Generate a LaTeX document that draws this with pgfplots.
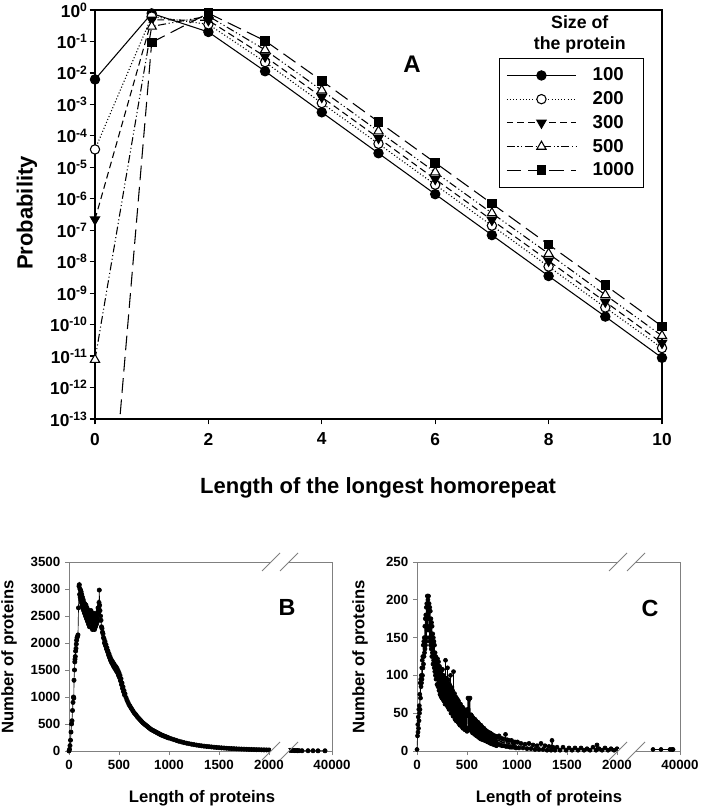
\documentclass[border=0pt]{standalone}
\usepackage{fontspec}
\setmainfont{Liberation Sans}
\usepackage{pgfplots}
\pgfplotsset{compat=1.18}
\begin{document}
\begin{tikzpicture}
\path[use as bounding box] (0pt,0pt) rectangle (525pt,607.5pt);
% ---------------- Panel A ----------------
\begin{axis}[
  at={(71.25pt,293.25pt)}, anchor=south west, scale only axis,
  width=425.25pt, height=306.75pt,
  xmin=0, xmax=10, ymode=log, ymin=1e-13, ymax=1,
  xtick={0,2,4,6,8,10}, xticklabels={0,2,4,6,8,10},
  ytick={1e-13,1e-12,1e-11,1e-10,1e-9,1e-8,1e-7,1e-6,1e-5,1e-4,1e-3,1e-2,1e-1,1},
  yticklabels={10\textsuperscript{-13},10\textsuperscript{-12},10\textsuperscript{-11},10\textsuperscript{-10},10\textsuperscript{-9},10\textsuperscript{-8},10\textsuperscript{-7},10\textsuperscript{-6},10\textsuperscript{-5},10\textsuperscript{-4},10\textsuperscript{-3},10\textsuperscript{-2},10\textsuperscript{-1},10\textsuperscript{0}},
  yminorticks=false, xminorticks=false,
  xtick pos=bottom, ytick pos=left, tick align=outside, major tick length=4pt,
  axis line style={line width=0.9pt}, tick style={line width=0.9pt, black},
  ticklabel style={font=\bfseries\fontsize{13}{14}\selectfont},
  yticklabel style={xshift=2pt}, xticklabel style={yshift=-3pt},
  clip mode=individual,
  legend style={at={(0.7125,0.8826)}, anchor=north west, draw=black, line width=0.9pt,
    font=\bfseries\fontsize{14}{16}\selectfont, inner xsep=5pt, inner ysep=5pt,
    row sep=2.5pt, /tikz/every odd column/.append style={column sep=10pt}},
  legend cell align=left,
  legend image code/.code={\draw[mark repeat=2,mark phase=2] plot coordinates {(0pt,0pt) (26pt,0pt) (52pt,0pt)};},
]
\addplot[black, line width=0.8pt, mark=*, mark size=3.5pt] coordinates {
(0,6.2e-3) (1,0.78) (2,0.20) (3,1.13e-2) (4,5.6e-4) (5,2.8e-5) (6,1.4e-6) (7,7.0e-8) (8,3.5e-9) (9,1.8e-10) (10,8.8e-12)};
\addlegendentry{100}
\addplot[black, line width=0.8pt, dash pattern=on 0.8pt off 1.6pt, mark=*, mark options={solid, fill=white}, mark size=3.5pt] coordinates {
(0,3.7e-5) (1,0.62) (2,0.35) (3,2.2e-2) (4,1.1e-3) (5,5.6e-5) (6,2.8e-6) (7,1.4e-7) (8,7.0e-9) (9,3.5e-10) (10,1.8e-11)};
\addlegendentry{200}
\addplot[black, line width=0.8pt, dash pattern=on 5pt off 3pt, mark=triangle*, mark options={solid, rotate=180}, mark size=4pt] coordinates {
(0,2.2e-7) (1,0.49) (2,0.47) (3,3.3e-2) (4,1.7e-3) (5,8.5e-5) (6,4.2e-6) (7,2.1e-7) (8,1.06e-8) (9,5.3e-10) (10,2.6e-11)};
\addlegendentry{300}
\addplot[black, line width=0.8pt, dash pattern=on 6pt off 2pt on 0.8pt off 2pt on 0.8pt off 2pt, mark=triangle*, mark options={solid, fill=white}, mark size=4pt] coordinates {
(0,7.7e-12) (1,0.30) (2,0.64) (3,5.4e-2) (4,2.8e-3) (5,1.4e-4) (6,7.0e-6) (7,3.5e-7) (8,1.8e-8) (9,8.8e-10) (10,4.4e-11)};
\addlegendentry{500}
\addplot[black, line width=0.8pt, dash pattern=on 11pt off 5pt, mark=square*, mark options={solid}, mark size=3.2pt] coordinates {
(1,0.093) (2,0.79) (3,0.105) (4,5.6e-3) (5,2.8e-4) (6,1.4e-5) (7,7.0e-7) (8,3.5e-8) (9,1.8e-9) (10,8.8e-11)};
\addlegendentry{1000}
\addplot[black, line width=0.8pt, dash pattern=on 11pt off 5pt, forget plot] coordinates {(0,5e-23) (1,0.093)};
\node[font=\bfseries\fontsize{18}{20}\selectfont] at (rel axis cs:0.559,0.868) {A};
\node[align=center, font=\bfseries\fontsize{13.3}{15.75}\selectfont] at (rel axis cs:0.855,0.940) {Size of\\the protein};
\end{axis}
\node[rotate=90, font=\bfseries\fontsize{16.5}{18}\selectfont] at (20.25pt,447.75pt) {Probability};
\node[font=\bfseries\fontsize{16.5}{18}\selectfont] at (283.5pt,241.5pt) {Length of the longest homorepeat};
% ---------------- Panel B ----------------
\begin{axis}[
  at={(51.75pt,44.25pt)}, anchor=south west, scale only axis,
  width=197.25pt, height=141.75pt,
  xmin=0, xmax=2630, ymin=0, ymax=3500,
  xtick={0,500,1000,1500,2000,2630}, xticklabels={0,500,1000,1500,2000,40000},
  ytick={0,500,1000,1500,2000,2500,3000,3500}, yticklabels={0,500,1000,1500,2000,2500,3000,3500},
  xtick pos=bottom, ytick pos=left, tick align=outside, major tick length=3pt,
  axis line style={gray, line width=0.7pt}, tick style={gray, line width=0.7pt},
  ticklabel style={font=\bfseries\fontsize{10}{12}\selectfont},
  clip=false,
]
\addplot[black, line width=0.5pt, mark=*, mark size=1.6pt] coordinates {
(0,0) (5,30) (10,100) (15,200) (20,350) (25,500) (30,560) (35,750) (40,900) (45,1000) (48,980) (50,1310) (55,1500) (58,1650) (60,1700) (63,1750) (66,1850) (70,1900) (73,1980) (76,2050) (80,2100) (85,2120) (90,2150) (95,2650) (100,3050) (103,3080) (106,2900) (109,3000) (112,2850) (115,2980) (118,2800) (121,2950) (124,2750) (127,2900) (130,2700) (132,2780) (134,2850) (136,2720) (138,2650) (140,2740) (142,2800) (144,2680) (146,2600) (148,2700) (150,2750) (152,2620) (155,2550) (158,2650) (160,2720) (163,2600) (165,2500) (168,2620) (170,2700) (173,2550) (175,2450) (178,2560) (180,2650) (183,2500) (185,2400) (188,2500) (190,2600) (193,2450) (195,2350) (198,2480) (200,2600) (203,2420) (205,2300) (208,2420) (210,2550) (213,2450) (215,2400) (218,2500) (220,2600) (223,2420) (225,2300) (228,2450) (230,2550) (233,2380) (235,2250) (238,2400) (240,2500) (243,2380) (245,2300) (248,2450) (250,2550) (253,2380) (255,2250) (258,2360) (260,2450) (263,2350) (265,2300) (268,2420) (270,2500) (273,2400) (275,2350) (278,2450) (280,2550) (283,2450) (285,2400) (288,2550) (290,2650) (293,2600) (295,2550) (298,2650) (300,2750) (303,2980) (306,2700) (310,2600) (315,2500) (320,2420) (325,2300) (330,2270) (335,2200) (340,2170) (345,2100) (350,2080) (355,2000) (360,2030) (365,1950) (370,1970) (375,1890) (380,1910) (385,1840) (390,1850) (395,1780) (400,1800) (405,1730) (410,1750) (415,1680) (420,1700) (425,1640) (430,1670) (435,1610) (440,1640) (445,1570) (450,1610) (455,1540) (460,1580) (465,1510) (470,1560) (475,1480) (480,1530) (485,1450) (490,1490) (495,1400) (500,1450) (505,1360) (510,1400) (515,1300) (520,1340) (525,1230) (530,1260) (535,1160) (540,1190) (545,1100) (550,1120) (555,1040) (560,1060) (570,990) (580,940) (590,900) (600,860) (610,830) (620,800) (630,770) (640,740) (650,710) (660,690) (670,670) (680,640) (690,620) (700,600) (710,580) (720,560) (730,540) (740,520) (750,505) (760,490) (770,475) (780,460) (790,445) (800,430) (810,415) (820,400) (830,390) (840,380) (850,370) (860,360) (870,350) (880,340) (890,330) (900,320) (910,310) (920,300) (930,292) (940,285) (950,277) (960,270) (970,262) (980,255) (990,247) (1000,240) (1025,225) (1050,210) (1075,195) (1100,180) (1125,168) (1150,155) (1175,145) (1200,135) (1225,126) (1250,118) (1275,110) (1300,103) (1325,96) (1350,90) (1375,85) (1400,80) (1425,75) (1450,70) (1475,66) (1500,62) (1525,58) (1550,55) (1575,51) (1600,48) (1625,45) (1650,43) (1675,40) (1700,38) (1725,36) (1750,34) (1775,32) (1800,30) (1825,28) (1850,27) (1875,25) (1900,24) (1925,22) (1950,21) (1975,20) (2000,19)};
\addplot[black, line width=0.5pt, mark=*, mark size=1.6pt] coordinates {
(2210,12) (2225,10) (2240,10) (2255,8) (2270,8) (2285,7) (2300,6) (2330,5) (2390,5) (2440,5) (2490,4) (2560,4)};
\coordinate (bt1) at (axis cs:2020,3500);
\coordinate (bt2) at (axis cs:2200,3500);
\coordinate (bb1) at (axis cs:2020,0);
\coordinate (bb2) at (axis cs:2200,0);
\node[font=\bfseries\fontsize{17.5}{20}\selectfont] at (axis cs:2180,2650) {B};
\end{axis}
\draw[white, line width=3pt] (bt1) -- (bt2);
\draw[white, line width=3pt] (bb1) -- (bb2);
\foreach \p in {bt1,bt2,bb1,bb2} {\draw[gray, line width=0.6pt] (\p) ++(-6.75pt,-6.75pt) -- ++(13.5pt,13.5pt);}
\node[rotate=90, font=\bfseries\fontsize{12.5}{14}\selectfont] at (6.75pt,114.75pt) {Number of proteins};
\node[font=\bfseries\fontsize{12.5}{14}\selectfont] at (151.5pt,9pt) {Length of proteins};
% ---------------- Panel C ----------------
\begin{axis}[
  at={(312.75pt,44.25pt)}, anchor=south west, scale only axis,
  width=197.25pt, height=141.75pt,
  xmin=0, xmax=2630, ymin=0, ymax=250,
  xtick={0,500,1000,1500,2000,2630}, xticklabels={0,500,1000,1500,2000,40000},
  ytick={0,50,100,150,200,250}, yticklabels={0,50,100,150,200,250},
  xtick pos=bottom, ytick pos=left, tick align=outside, major tick length=3pt,
  axis line style={gray, line width=0.7pt}, tick style={gray, line width=0.7pt},
  ticklabel style={font=\bfseries\fontsize{10}{12}\selectfont},
  clip=false,
]
\addplot[black, line width=0.5pt, mark=*, mark size=1.5pt] coordinates {
(0,2) (5,20) (8,35) (10,25) (13,45) (15,30) (18,55) (20,40) (23,60) (25,50) (28,75) (30,55) (33,90) (35,70) (38,95) (40,85) (43,100) (45,90) (48,110) (50,95) (53,120) (55,100) (58,125) (60,110) (63,140) (65,115) (68,145) (70,125) (73,150) (75,130) (78,165) (80,135) (83,175) (85,140) (88,180) (90,145) (93,190) (95,150) (98,195) (100,160) (103,205) (106,165) (109,200) (112,175) (115,205) (118,160) (121,195) (124,150) (127,190) (130,145) (133,185) (136,140) (139,175) (142,135) (145,170) (148,125) (151,165) (154,130) (157,155) (160,115) (163,150) (166,120) (169,145) (172,110) (175,140) (178,105) (181,130) (184,100) (187,125) (190,95) (195,120)
(200,88) (205,122) (210,85) (215,118) (220,80) (225,112) (230,75) (235,108) (240,72) (245,106) (250,70) (255,108) (260,68) (265,100) (270,66) (275,95) (280,62) (285,120) (290,64) (295,96) (300,60) (305,110) (310,58) (315,94) (320,55) (325,88) (330,56) (335,100) (340,50) (345,84) (350,50) (355,80) (360,46) (365,105) (370,46) (375,76) (380,42) (385,72) (390,40) (395,70) (400,40) (405,68) (410,38) (415,66) (420,36) (425,62) (430,34) (435,62) (440,34) (445,58) (450,32) (455,58) (460,30) (465,56) (470,30) (475,54) (480,28) (485,52) (490,28) (495,50) (500,26) (505,55) (510,70) (515,30) (520,68) (525,32) (530,70) (535,28) (540,48) (545,26) (550,46) (555,24) (560,44) (565,24) (570,42) (575,22) (580,42) (585,22) (590,40) (595,20) (600,38) (605,20) (610,38) (615,18) (620,36) (625,18) (630,34) (635,16) (640,34) (645,16) (650,32) (655,15) (660,30) (665,15) (670,30) (675,14) (680,28) (685,14) (690,27) (695,13) (700,26) (705,12) (710,25) (715,12) (720,24) (725,11) (730,24) (735,10) (740,23) (745,10) (750,22) (755,9) (760,21) (765,9) (770,20) (775,8) (780,20) (785,8) (790,19) (795,7) (800,18)
(810,9) (820,20) (830,8) (840,17) (850,7) (860,16) (870,7) (885,22) (890,6) (900,15) (910,6) (920,14) (930,5) (945,14) (950,5) (960,12) (970,5) (980,12) (990,4) (1005,12) (1020,4) (1040,10) (1060,4) (1080,9) (1100,3) (1120,10) (1140,3) (1160,8) (1180,2) (1200,7) (1220,2) (1240,10) (1260,2) (1280,7) (1300,1) (1320,6) (1340,1) (1350,14) (1360,5) (1380,1) (1400,5) (1430,1) (1460,5) (1490,1) (1520,4) (1550,1) (1580,4) (1610,1) (1640,4) (1670,1) (1700,3) (1730,1) (1760,5) (1790,1) (1800,8) (1820,3) (1850,1) (1880,4) (1910,1) (1940,3) (1970,1) (2000,3)};
\addplot[black, line width=0.5pt, mark=*, mark size=1.5pt] coordinates {
(2360,2) (2440,2) (2530,2) (2550,2) (2560,2)};
\coordinate (ct1) at (axis cs:2010,250);
\coordinate (ct2) at (axis cs:2190,250);
\coordinate (cb1) at (axis cs:2010,0);
\coordinate (cb2) at (axis cs:2190,0);
\node[font=\bfseries\fontsize{17.5}{20}\selectfont] at (axis cs:2330,189) {C};
\end{axis}
\draw[white, line width=3pt] (ct1) -- (ct2);
\draw[white, line width=3pt] (cb1) -- (cb2);
\foreach \p in {ct1,ct2,cb1,cb2} {\draw[gray, line width=0.6pt] (\p) ++(-6.75pt,-6.75pt) -- ++(13.5pt,13.5pt);}
\node[rotate=90, font=\bfseries\fontsize{12.5}{14}\selectfont] at (270pt,114.75pt) {Number of proteins};
\node[font=\bfseries\fontsize{12.5}{14}\selectfont] at (411.75pt,9pt) {Length of proteins};
\end{tikzpicture}
\end{document}
